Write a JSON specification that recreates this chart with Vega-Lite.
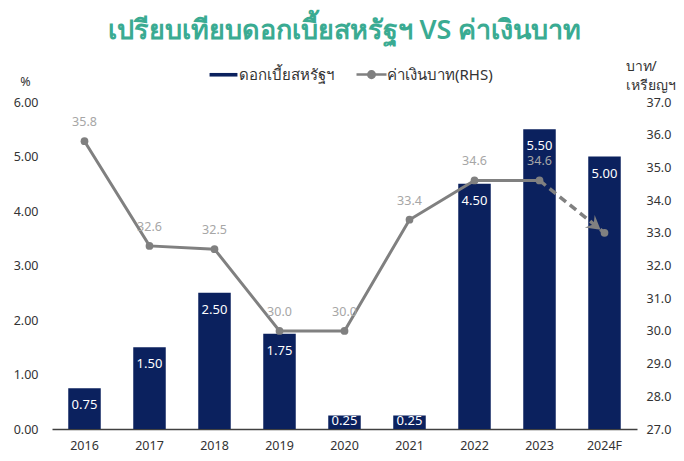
{
  "$schema": "https://vega.github.io/schema/vega-lite/v6.json",
  "width": 585,
  "height": 327,
  "autosize": {"type": "none"},
  "padding": {"left": 52, "top": 102, "right": 47, "bottom": 32},
  "background": "#ffffff",
  "title": {
    "text": "เปรียบเทียบดอกเบี้ยสหรัฐฯ VS ค่าเงินบาท",
    "color": "#3aab92",
    "fontSize": 27,
    "fontWeight": 600,
    "font": "Noto Sans",
    "anchor": "middle",
    "frame": "group",
    "offset": 14
  },
  "config": {
    "view": {"stroke": null},
    "font": "Noto Sans",
    "axis": {"grid": false, "ticks": false, "labelOverlap": false, "labelColor": "#333333", "labelFontSize": 12.5, "titleColor": "#333333", "titleFontWeight": "normal", "titleFontSize": 12.5}
  },
  "data": {
    "values": [
      {"year": "2016", "rate": 0.75, "thb": 35.8, "lbl": "35.8"},
      {"year": "2017", "rate": 1.5, "thb": 32.6, "lbl": "32.6"},
      {"year": "2018", "rate": 2.5, "thb": 32.5, "lbl": "32.5"},
      {"year": "2019", "rate": 1.75, "thb": 30.0, "lbl": "30.0"},
      {"year": "2020", "rate": 0.25, "thb": 30.0, "lbl": "30.0"},
      {"year": "2021", "rate": 0.25, "thb": 33.4, "lbl": "33.4"},
      {"year": "2022", "rate": 4.5, "thb": 34.6, "lbl": "34.6"},
      {"year": "2023", "rate": 5.5, "thb": 34.6, "lbl": "34.6"},
      {"year": "2024F", "rate": 5.0, "thb": 33.0, "lbl": ""}
    ]
  },
  "encoding": {
    "x": {
      "field": "year", "type": "nominal", "sort": null,
      "scale": {"paddingInner": 0.5, "paddingOuter": 0.25},
      "axis": {"title": null, "labelAngle": 0, "labelPadding": 10, "domainColor": "#404040", "domainWidth": 1.3}
    }
  },
  "layer": [
    {
      "layer": [
        {
          "mark": {"type": "bar", "color": "#0b215e"},
          "encoding": {
            "y": {
              "field": "rate", "type": "quantitative",
              "scale": {"domain": [0, 6], "nice": false},
              "axis": {"title": "%", "titleAngle": 0, "titleX": -27, "titleY": -14, "titleAlign": "center", "titleBaseline": "bottom", "values": [0, 1, 2, 3, 4, 5, 6], "format": ".2f", "domain": false, "labelPadding": 14, "labelOverlap": false}
            },
            "color": {
              "datum": "ดอกเบี้ยสหรัฐฯ",
              "scale": {"domain": ["ดอกเบี้ยสหรัฐฯ", "ค่าเงินบาท(RHS)"], "range": ["#0b215e", "#808080"]},
              "legend": {
                "title": null,
                "orient": "none",
                "legendX": 164,
                "legendY": -35,
                "direction": "horizontal",
                "labelFontSize": 15,
                "labelColor": "#333333",
                "symbolSize": 900,
                "columnPadding": 17,
                "labelOffset": 8,
                "encode": {
                  "symbols": {
                    "update": {
                      "shape": {"signal": "datum.label === 'ดอกเบี้ยสหรัฐฯ' ? 'M-0.93,-0.12L0.93,-0.12L0.93,0.12L-0.93,0.12Z' : 'M-1,0L1,0M-0.22,0A0.22,0.22,0,1,1,0.22,0A0.22,0.22,0,1,1,-0.22,0'"},
                      "strokeWidth": {"signal": "datum.label === 'ดอกเบี้ยสหรัฐฯ' ? 0 : 2.5"}
                    }
                  }
                }
              }
            }
          }
        },
        {
          "transform": [{"filter": "datum.rate >= 0.5"}],
          "mark": {"type": "text", "color": "#ffffff", "fontSize": 13, "baseline": "middle", "dy": 17},
          "encoding": {
            "y": {"field": "rate", "type": "quantitative", "scale": {"domain": [0, 6], "nice": false}},
            "text": {"field": "rate", "type": "quantitative", "format": ".2f"}
          }
        },
        {
          "transform": [{"filter": "datum.rate < 0.5"}],
          "mark": {"type": "text", "color": "#ffffff", "fontSize": 13, "baseline": "middle", "dy": 6},
          "encoding": {
            "y": {"field": "rate", "type": "quantitative", "scale": {"domain": [0, 6], "nice": false}},
            "text": {"field": "rate", "type": "quantitative", "format": ".2f"}
          }
        }
      ]
    },
    {
      "encoding": {
        "y": {
          "field": "thb", "type": "quantitative",
          "scale": {"domain": [27, 37], "nice": false},
          "axis": {"orient": "right", "title": ["บาท/", "เหรียญฯ"], "titleFontSize": 14, "titleAngle": 0, "titleX": -12, "titleY": -43, "titleAlign": "left", "titleBaseline": "top", "titleLineHeight": 19, "tickCount": 10, "format": ".1f", "domain": false, "labelPadding": 9, "labelOverlap": false}
        },
        "color": {"datum": "ค่าเงินบาท(RHS)"}
      },
      "layer": [
        {
          "transform": [{"filter": "datum.year !== '2024F'"}],
          "mark": {"type": "line", "strokeWidth": 3}
        },
        {
          "transform": [{"filter": "datum.year === '2023' || datum.year === '2024F'"}],
          "mark": {"type": "line", "strokeWidth": 3.5, "strokeDash": [8, 5]}
        },
        {
          "mark": {"type": "point", "filled": true, "size": 60, "opacity": 1}
        },
        {
          "transform": [{"filter": "datum.year === '2024F'"}],
          "mark": {"type": "point", "filled": true, "opacity": 1, "size": 2500, "angle": 38, "shape": "M-0.2,0L-0.75,-0.32L-0.55,0L-0.75,0.32Z"}
        },
        {
          "mark": {"type": "text", "color": "#a6a6a6", "fontSize": 12.5, "baseline": "middle", "dy": -19},
          "encoding": {
            "text": {"field": "lbl", "type": "nominal"},
            "color": {"value": "#a6a6a6"}
          }
        }
      ]
    }
  ],
  "resolve": {"scale": {"y": "independent"}}
}
